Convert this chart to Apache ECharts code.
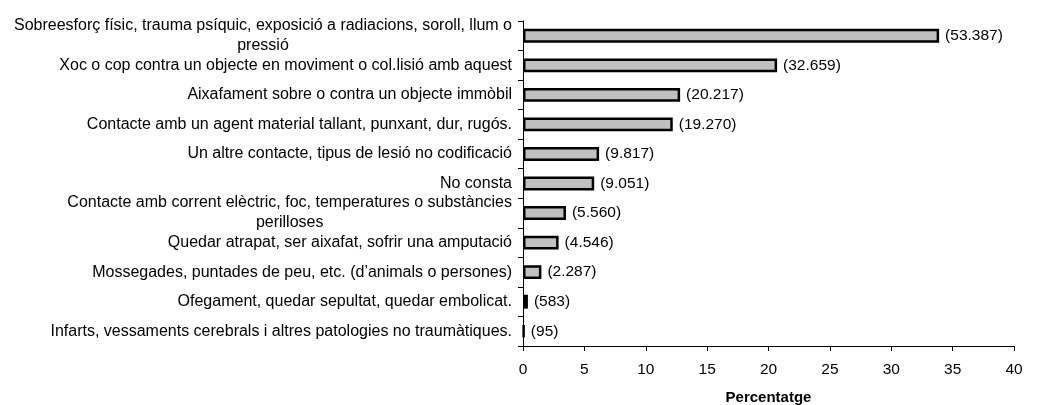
<!DOCTYPE html>
<html>
<head>
<meta charset="utf-8">
<script src="https://cdn.jsdelivr.net/npm/echarts@6/dist/echarts.min.js"></script>
<style>
  html, body { margin: 0; padding: 0; background: #fff; }
  #chart { width: 1041px; height: 405px; }
</style>
</head>
<body>
<div id="chart"></div>
<script>
// categories, top to bottom
var categories = [
  'Sobreesforç físic, trauma psíquic, exposició a radiacions, soroll, llum o\npressió',
  'Xoc o cop contra un objecte en moviment o col.lisió amb aquest',
  'Aixafament sobre o contra un objecte immòbil',
  'Contacte amb un agent material tallant, punxant, dur, rugós.',
  'Un altre contacte, tipus de lesió no codificació',
  'No consta',
  'Contacte amb corrent elèctric, foc, temperatures o substàncies\nperilloses',
  'Quedar atrapat, ser aixafat, sofrir una amputació',
  'Mossegades, puntades de peu, etc. (d\u2019animals o persones)',
  'Ofegament, quedar sepultat, quedar embolicat.',
  'Infarts, vessaments cerebrals i altres patologies no traumàtiques.'
];
// percentatge
var percentatge = [33.9, 20.7, 12.8, 12.2, 6.2, 5.8, 3.5, 2.9, 1.5, 0.4, 0.1];
// counts shown next to each bar
var counts = ['(53.387)', '(32.659)', '(20.217)', '(19.270)', '(9.817)', '(9.051)',
              '(5.560)', '(4.546)', '(2.287)', '(583)', '(95)'];
var xTicks = { min: 0, max: 40, interval: 5 };

var font = 'Liberation Sans, Arial, sans-serif';
var chart = echarts.init(document.getElementById('chart'));

chart.setOption({
  animation: false,
  textStyle: { fontFamily: font },
  grid: { left: 523, right: 27, top: 21, bottom: 59, containLabel: false, outerBoundsMode: 'none' },
  xAxis: {
    type: 'value',
    min: xTicks.min, max: xTicks.max, interval: xTicks.interval,
    name: 'Percentatge',
    nameLocation: 'middle',
    nameGap: 44,
    nameTextStyle: { fontFamily: font, fontSize: 15, fontWeight: 'bold', color: '#000' },
    axisLine: { show: true, lineStyle: { color: '#000', width: 1 } },
    axisTick: { show: true, length: 5, lineStyle: { color: '#000' } },
    axisLabel: { fontFamily: font, fontSize: 15.5, color: '#000', margin: 16 },
    splitLine: { show: false }
  },
  yAxis: {
    type: 'category',
    inverse: true,
    data: categories,
    axisLine: { show: true, lineStyle: { color: '#000', width: 1 } },
    axisTick: { show: true, length: 5, lineStyle: { color: '#000' } },
    axisLabel: {
      interval: 0,
      fontFamily: font, fontSize: 16, color: '#000', margin: 11, lineHeight: 20,
      formatter: function (v) {
        return v.split('\n').map(function (s) { return '{c|' + s + '}'; }).join('\n');
      },
      rich: { c: { align: 'center', fontFamily: font, fontSize: 16, color: '#000', lineHeight: 20 } }
    }
  },
  series: [{
    type: 'bar',
    data: percentatge,
    barWidth: '47%',
    itemStyle: { color: '#c0c0c0', borderColor: '#000', borderWidth: 2.5 },
    label: {
      show: true,
      position: 'right',
      distance: 6,
      fontFamily: font, fontSize: 15.5, color: '#000',
      formatter: function (p) { return counts[p.dataIndex]; }
    }
  }]
});
</script>
</body>
</html>
